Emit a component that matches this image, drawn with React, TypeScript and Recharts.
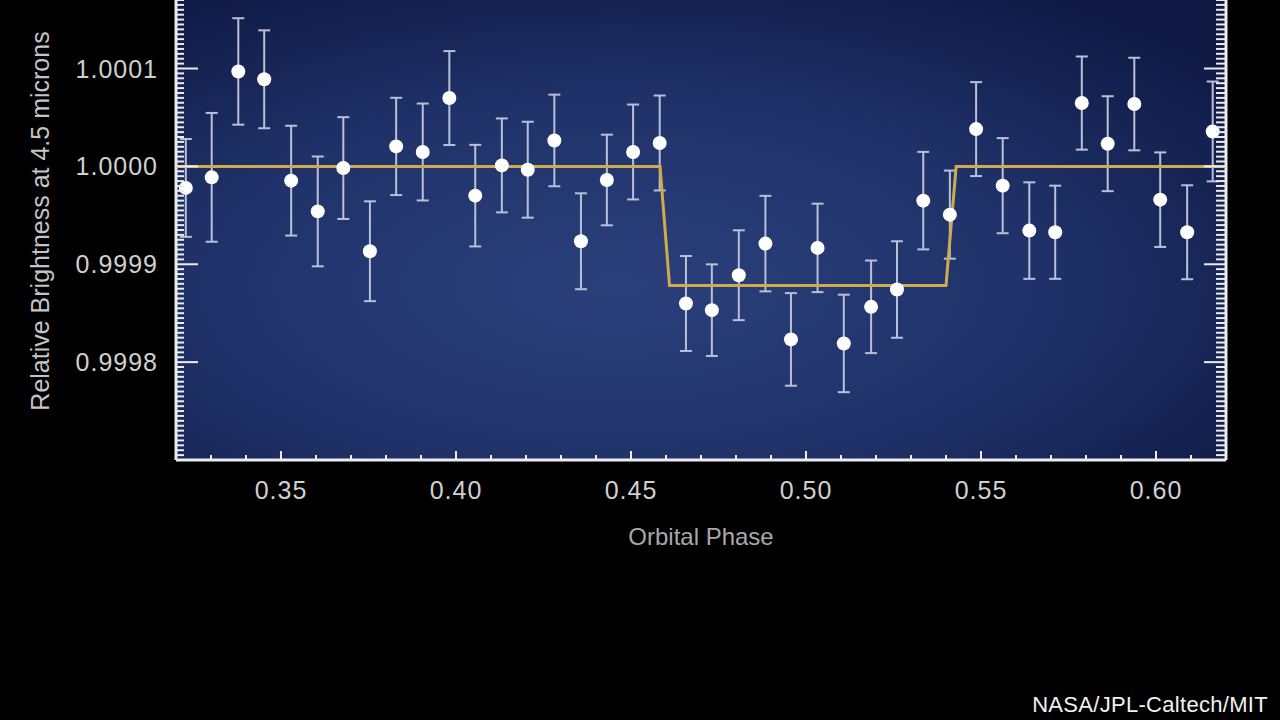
import React from "react";
import { ComposedChart, Scatter, ErrorBar, XAxis, YAxis, CartesianGrid } from "recharts";

// orbital phase of each binned measurement
const phase = [
  0.3228, 0.3302, 0.3378, 0.3452, 0.3529, 0.3605, 0.3678, 0.3754, 0.3829, 0.3905,
  0.3981, 0.4055, 0.4131, 0.4205, 0.4281, 0.4357, 0.4431, 0.4506, 0.4582, 0.4657,
  0.4731, 0.4808, 0.4884, 0.4957, 0.5033, 0.5108, 0.5186, 0.526, 0.5335, 0.5411,
  0.5486, 0.5562, 0.5638, 0.5712, 0.5788, 0.5862, 0.5938, 0.6012, 0.6089, 0.6162,
];

// relative brightness at 4.5 microns
const brightness = [
  0.999978, 0.9999888, 1.000097, 1.000089, 0.9999854, 0.999954, 0.9999983, 0.9999133, 1.0000204, 1.0000147,
  1.0000698, 0.9999701, 1.000001, 0.9999966, 1.0000265, 0.9999235, 0.9999861, 1.0000147, 1.0000239, 0.9998599,
  0.9998531, 0.9998888, 0.9999211, 0.9998232, 0.9999167, 0.9998191, 0.9998565, 0.9998742, 0.999965, 0.9999507,
  1.0000381, 0.9999803, 0.9999344, 0.9999327, 1.0000647, 1.0000232, 1.0000637, 0.999966, 0.9999327, 1.0000357,
];

// 1-sigma error bars
const errors = [
  0.00005, 0.0000658, 0.0000544, 0.00005, 0.0000561, 0.0000561, 0.000052, 0.000051, 0.0000497, 0.0000495,
  0.000048, 0.0000519, 0.000048, 0.000049, 0.0000468, 0.000049, 0.0000463, 0.0000485, 0.0000485, 0.0000485,
  0.0000468, 0.0000459, 0.0000488, 0.0000473, 0.0000452, 0.0000498, 0.0000473, 0.0000493, 0.0000498, 0.000045,
  0.000048, 0.0000486, 0.0000493, 0.0000476, 0.0000476, 0.0000485, 0.0000473, 0.0000483, 0.000048, 0.000051,
];

// eclipse model (box-shaped secondary eclipse)
const modelPhase = [0.32, 0.4583, 0.461, 0.54, 0.5429, 0.62];
const modelBrightness = [1.0, 1.0, 0.9998783, 0.9998783, 1.0, 1.0];

const xTickLabels = ["0.35", "0.40", "0.45", "0.50", "0.55", "0.60"];
const yTickLabels = ["0.9998", "0.9999", "1.0000", "1.0001"];

const points = phase.map((x, i) => ({ x, y: brightness[i], err: errors[i] }));
const model = modelPhase.map((x, i) => ({ x, y: modelBrightness[i] }));

const xMajor = xTickLabels.map(Number);
const yMajor = yTickLabels.map(Number);

// minor ticks: every 0.01 in phase, every 0.000005 in brightness
const xTicks: number[] = [];
for (let i = 33; i <= 61; i++) xTicks.push(i / 100);
const yTicks: number[] = [];
for (let i = 0; i <= 94; i++) yTicks.push(Number((0.9997 + i * 0.000005).toFixed(7)));

const majorIndex = (list: number[], v: number) => list.findIndex((m) => Math.abs(m - v) < 1e-9);

const AXIS = "#ececec";
const LABEL = "#d0d0d0";
const FONT = "'Liberation Sans', Arial, sans-serif";

const LeftTick = (props: any) => {
  const { x, y, payload } = props;
  const idx = majorIndex(yMajor, payload.value);
  const major = idx >= 0;
  return (
    <g>
      <line x1={x} x2={x + (major ? 22 : 8)} y1={y} y2={y} stroke={AXIS} strokeWidth={2} />
      {major && (
        <text x={x - 18} y={y + 9} textAnchor="end" fill={LABEL} fontSize={25} letterSpacing={1} fontFamily={FONT}>
          {yTickLabels[idx]}
        </text>
      )}
    </g>
  );
};

const RightTick = (props: any) => {
  const { x, y, payload } = props;
  const major = majorIndex(yMajor, payload.value) >= 0;
  return <line x1={x} x2={x - (major ? 22 : 10)} y1={y} y2={y} stroke={AXIS} strokeWidth={2} />;
};

const BottomTick = (props: any) => {
  const { x, y, payload } = props;
  const idx = majorIndex(xMajor, payload.value);
  const major = idx >= 0;
  return (
    <g>
      <line x1={x} x2={x} y1={y} y2={y - (major ? 9 : 5)} stroke={AXIS} strokeWidth={2} />
      {major && (
        <text x={x} y={y + 39} textAnchor="middle" fill={LABEL} fontSize={25} letterSpacing={1} fontFamily={FONT}>
          {xTickLabels[idx]}
        </text>
      )}
    </g>
  );
};

// rotated y-axis title, nudged a little above the plot's middle like the original
const YTitle = () => (
  <text
    x={40}
    y={221}
    transform="rotate(-90 40 221)"
    textAnchor="middle"
    dominantBaseline="central"
    fill="#c4c4c4"
    fontSize={25}
    fontFamily={FONT}
  >
    Relative Brightness at 4.5 microns
  </text>
);

export default function App() {
  return (
    <div style={{ position: "absolute", left: 0, top: 0, width: 1280, height: 720, background: "#000", overflow: "hidden" }}>
      <ComposedChart width={1280} height={720} margin={{ top: 0, right: 0, left: 0, bottom: 160 }}>
        <defs>
          <radialGradient id="bg" cx="42%" cy="62%" r="75%">
            <stop offset="0%" stopColor="#2b407c" />
            <stop offset="55%" stopColor="#1f3168" />
            <stop offset="100%" stopColor="#0f1944" />
          </radialGradient>
        </defs>
        <CartesianGrid horizontal={false} vertical={false} fill="url(#bg)" />
        <XAxis
          type="number"
          dataKey="x"
          domain={[0.32, 0.62]}
          allowDataOverflow
          ticks={xTicks}
          interval={0}
          tick={<BottomTick />}
          tickLine={false}
          tickSize={0}
          tickMargin={0}
          height={100}
          axisLine={{ stroke: AXIS, strokeWidth: 3 }}
          label={{ value: "Orbital Phase", position: "insideTop", offset: 68, style: { fill: "#a8a8a8", fontSize: 24, fontFamily: FONT } }}
        />
        <YAxis
          type="number"
          dataKey="y"
          domain={[0.9997, 1.00017]}
          allowDataOverflow
          ticks={yTicks}
          interval={0}
          tick={<LeftTick />}
          tickLine={false}
          tickSize={0}
          tickMargin={0}
          width={176}
          axisLine={{ stroke: AXIS, strokeWidth: 3 }}
          label={{ content: () => <YTitle /> }}
        />
        <YAxis
          yAxisId="r"
          orientation="right"
          type="number"
          domain={[0.9997, 1.00017]}
          allowDataOverflow
          ticks={yTicks}
          interval={0}
          tick={<RightTick />}
          tickLine={false}
          tickSize={0}
          tickMargin={0}
          width={54}
          axisLine={{ stroke: AXIS, strokeWidth: 3 }}
        />
        <Scatter
          data={model}
          line={{ stroke: "#d0ab4c", strokeWidth: 3 }}
          shape={() => <g />}
          legendType="none"
          isAnimationActive={false}
        />
        <Scatter
          data={points}
          shape={(p: any) => <circle cx={p.cx} cy={p.cy} r={7} fill="#ffffff" />}
          legendType="none"
          isAnimationActive={false}
        >
          <ErrorBar dataKey="err" direction="y" width={6} stroke="#b9c1d6" strokeWidth={2} isAnimationActive={false} />
        </Scatter>
      </ComposedChart>
      <div
        style={{
          position: "absolute",
          right: 12,
          top: 692,
          color: "#f2f2f2",
          fontSize: 22,
          fontFamily: FONT,
          letterSpacing: 0.3,
          lineHeight: "26px",
        }}
      >
        NASA/JPL-Caltech/MIT
      </div>
    </div>
  );
}
